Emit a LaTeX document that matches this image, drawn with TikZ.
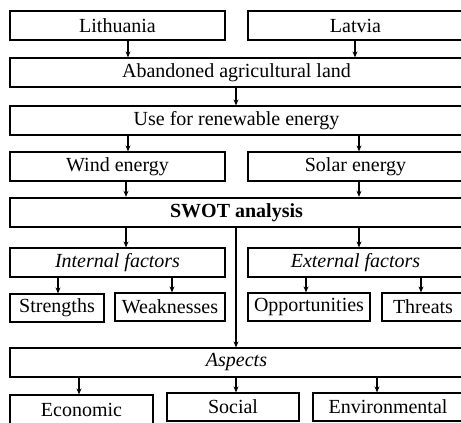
\documentclass[tikz,border=0pt]{standalone}
\usepackage{fontspec}
\setmainfont{Liberation Serif}
\usetikzlibrary{arrows.meta}
\tikzset{
	box/.style={draw, line width=1.2pt, inner sep=0pt, minimum height=29pt,
		font=\fontsize{20}{23}\selectfont},
	arr/.style={line width=1.2pt, -{Stealth[length=6pt, width=5pt]}}
}
\begin{document}
\begin{tikzpicture}[x=1pt, y=-1pt]
		\useasboundingbox (0,0) rectangle (461,423);
		\clip (0,0) rectangle (461,423);
		% top rows
		\node[box, minimum width=215pt] (lith) at (117.5,25.5) {Lithuania};
		\node[box, minimum width=215pt] (latv) at (355.5,25.5) {Latvia};
		\node[box, minimum width=453pt] (aband) at (236.5,72.5) {Abandoned agricultural land};
		\node[box, minimum width=453pt] (use) at (236.5,120.5) {Use for renewable energy};
		\node[box, minimum width=215pt] (wind) at (117.5,166.5) {Wind energy};
		\node[box, minimum width=215pt] (solar) at (355.5,166.5) {Solar energy};
		\node[box, line width=2.4pt, minimum width=453pt, font=\fontsize{20}{23}\selectfont\bfseries]
			(swot) at (236.5,212.5) {SWOT analysis};
		% factors
		\node[box, minimum width=215pt, font=\fontsize{20}{23}\selectfont\itshape]
			(int) at (117.5,262.5) {Internal factors};
		\node[box, minimum width=215pt, font=\fontsize{20}{23}\selectfont\itshape]
			(ext) at (355.5,262.5) {External factors};
		\node[box, minimum width=94pt, minimum height=28pt] (str) at (57,308) {Strengths};
		\node[box, minimum width=110pt, minimum height=28pt] (weak) at (170,307) {Weaknesses};
		\node[box, minimum width=122pt, minimum height=28pt] (opp) at (309,307) {Opportunities};
		\node[box, minimum width=82pt, minimum height=28pt] (thr) at (423,307) {Threats};
		% aspects
		\node[box, minimum width=453pt, font=\fontsize{20}{23}\selectfont\itshape]
			(asp) at (236.5,362.5) {Aspects};
		\node[box, minimum width=143pt] (eco) at (81.5,409.5) {Economic};
		\node[box, minimum width=132pt, minimum height=28pt] (soc) at (233,407) {Social};
		\node[box, minimum width=150pt, minimum height=28pt] (env) at (388,407) {Environmental};
		% connectors
		\foreach \from/\to/\x in {lith/aband/128, latv/aband/355, aband/use/236,
			use/wind/128, use/solar/359, wind/swot/126, solar/swot/359,
			swot/int/126, swot/ext/359, int/str/58, int/weak/172,
			ext/opp/306, ext/thr/421, swot/asp/236,
			asp/eco/79, asp/soc/236, asp/env/377}{
				\draw[arr] (\from.south -| \x,0) -- (\to.north -| \x,0);
			}
	\end{tikzpicture}
\end{document}
